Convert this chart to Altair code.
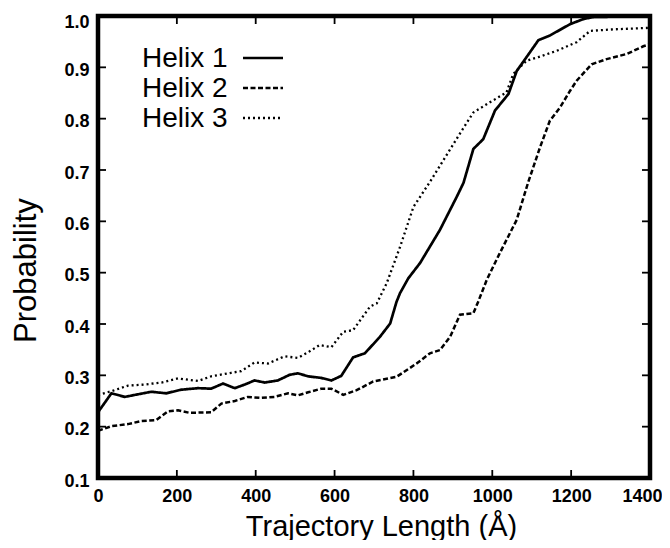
import altair as alt
import pandas as pd

series = ["Helix 1", "Helix 2", "Helix 3"]

h1_x = [0, 34, 68, 101, 135, 173, 211, 254, 287, 317, 347, 372, 397, 423, 456, 486, 507, 533, 566, 592,
        617, 647, 677, 715, 728, 741, 757, 766, 787, 817, 867, 910, 927, 952, 977, 1007, 1041, 1062, 1087,
        1117, 1146, 1197, 1231, 1256, 1400]
h1_y = [0.228, 0.265, 0.258, 0.263, 0.268, 0.265, 0.272, 0.275, 0.274, 0.284, 0.275, 0.282, 0.290, 0.286,
        0.290, 0.301, 0.304, 0.298, 0.295, 0.290, 0.299, 0.335, 0.343, 0.375, 0.388, 0.401, 0.443, 0.460,
        0.489, 0.519, 0.583, 0.648, 0.675, 0.741, 0.760, 0.816, 0.848, 0.893, 0.920, 0.953, 0.962, 0.984,
        0.994, 0.998, 1.0]

h2_x = [0, 34, 76, 110, 148, 178, 203, 232, 287, 313, 347, 380, 414, 448, 482, 507, 533, 566, 592, 622,
        656, 698, 757, 808, 842, 867, 893, 918, 952, 964, 986, 1019, 1062, 1091, 1121, 1146, 1172, 1197,
        1214, 1252, 1290, 1341, 1383, 1400]
h2_y = [0.192, 0.201, 0.205, 0.211, 0.213, 0.230, 0.232, 0.227, 0.228, 0.245, 0.250, 0.258, 0.256, 0.258,
        0.265, 0.261, 0.267, 0.274, 0.274, 0.262, 0.271, 0.288, 0.297, 0.323, 0.343, 0.349, 0.375, 0.418,
        0.421, 0.443, 0.486, 0.538, 0.603, 0.676, 0.744, 0.796, 0.822, 0.854, 0.874, 0.906, 0.916, 0.926,
        0.941, 0.945]

h3_x = [0, 34, 76, 118, 161, 203, 254, 287, 338, 363, 397, 431, 473, 507, 533, 562, 592, 622, 647, 690,
        707, 732, 766, 800, 842, 867, 922, 952, 994, 1036, 1053, 1087, 1117, 1163, 1214, 1248, 1307, 1400]
h3_y = [0.262, 0.269, 0.280, 0.282, 0.286, 0.294, 0.289, 0.298, 0.305, 0.308, 0.325, 0.323, 0.337, 0.334,
        0.345, 0.359, 0.355, 0.385, 0.388, 0.434, 0.440, 0.479, 0.550, 0.628, 0.677, 0.708, 0.776, 0.812,
        0.832, 0.851, 0.887, 0.913, 0.920, 0.932, 0.949, 0.971, 0.974, 0.977]

x_ticks = [0, 200, 400, 600, 800, 1000, 1200, 1400]
y_ticks = [0.1, 0.2, 0.3, 0.4, 0.5, 0.6, 0.7, 0.8, 0.9, 1.0]
x_inner = [200, 400, 600, 800, 1000, 1200]
y_inner = [0.2, 0.3, 0.4, 0.5, 0.6, 0.7, 0.8, 0.9]

rows = []
for name, xs_, ys_ in [("Helix 1", h1_x, h1_y), ("Helix 2", h2_x, h2_y), ("Helix 3", h3_x, h3_y)]:
    for i, (a, b) in enumerate(zip(xs_, ys_)):
        rows.append({"series": name, "x": a, "y": b, "order": i})
df = pd.DataFrame(rows)

W, H = 552, 462
FONT = "Liberation Sans"

dash_scale = alt.Scale(domain=series, range=[[1, 0], [5, 2.5], [2, 3]])
width_scale = alt.Scale(domain=series, range=[2.7, 2.3, 2.2])

xs = alt.Scale(domain=[0, 1400], nice=False, zero=False)
ys = alt.Scale(domain=[0.1, 1.0], nice=False, zero=False)

lines = alt.Chart(df).mark_line(color="black", strokeCap="butt").encode(
    x=alt.X("x:Q", scale=xs, axis=alt.Axis(
        values=x_ticks, format="d", title="Trajectory Length (Å)", ticks=False, domain=False, grid=False,
        labelFont=FONT, labelFontSize=18, labelFontWeight="bold", labelColor="black",
        labelPadding=9, labelFlush=False,
        labelOffset={"condition": {"test": "datum.value == 1400", "value": -8}, "value": 0},
        titleFont=FONT, titleFontSize=29, titleFontWeight="normal", titleColor="black",
        titleX=283, titleY=57, titleBaseline="alphabetic")),
    y=alt.Y("y:Q", scale=ys, axis=alt.Axis(
        values=y_ticks, format=".1f", title="Probability", ticks=False, domain=False, grid=False,
        labelFont=FONT, labelFontSize=18, labelFontWeight="bold", labelColor="black",
        labelPadding=9, labelFlush=False,
        labelOffset={"condition": {"test": "datum.value == 1", "value": 6}, "value": 3},
        titleFont=FONT, titleFontSize=31, titleFontWeight="normal", titleColor="black",
        titleX=-63, titleY=254, titleBaseline="alphabetic", titleAngle=270)),
    strokeDash=alt.StrokeDash("series:N", scale=dash_scale, legend=None),
    strokeWidth=alt.StrokeWidth("series:N", scale=width_scale, legend=None),
    detail="series:N",
    order="order:Q",
)

tx = pd.DataFrame({"v": x_inner})
ty = pd.DataFrame({"v": y_inner})
tk = dict(color="black", strokeWidth=1.8)
t_left = alt.Chart(ty).mark_rule(**tk).encode(y=alt.Y("v:Q", scale=ys), x=alt.value(0), x2=alt.value(8))
t_right = alt.Chart(ty).mark_rule(**tk).encode(y=alt.Y("v:Q", scale=ys), x=alt.value(W), x2=alt.value(W - 8))
t_top = alt.Chart(tx).mark_rule(**tk).encode(x=alt.X("v:Q", scale=xs), y=alt.value(0), y2=alt.value(8))
t_bot = alt.Chart(tx).mark_rule(**tk).encode(x=alt.X("v:Q", scale=xs), y=alt.value(H), y2=alt.value(H - 8))

frame_df = pd.DataFrame({"f": [1]})
frame = alt.Chart(frame_df).mark_rect(fillOpacity=0, stroke="black", strokeWidth=4.5).encode(
    x=alt.value(0), x2=alt.value(W), y=alt.value(0), y2=alt.value(H)
)

leg_df = pd.DataFrame({"series": series})
leg_y = alt.Y("series:N", scale=alt.Scale(type="point", domain=series, range=[42, 102], padding=0), axis=None)
leg_text = alt.Chart(leg_df).mark_text(
    font=FONT, fontSize=28, align="left", baseline="middle", color="black", dy=1
).encode(y=leg_y, x=alt.value(44), text="series:N")
leg_line = alt.Chart(leg_df).mark_rule(color="black").encode(
    y=leg_y, x=alt.value(145), x2=alt.value(185),
    strokeDash=alt.StrokeDash("series:N", scale=dash_scale, legend=None),
    strokeWidth=alt.StrokeWidth("series:N", scale=width_scale, legend=None),
)

data_layer = alt.layer(lines, t_left, t_right, t_top, t_bot, frame)
legend_layer = alt.layer(leg_text, leg_line)

chart = alt.layer(data_layer, legend_layer).resolve_scale(y="independent").properties(
    width=W, height=H, autosize="none",
    padding={"left": 90, "top": 8, "right": 12, "bottom": 62},
).configure_view(stroke=None).configure(background="white")

chart.save("out.html", embed_options={"renderer": "svg", "actions": False})
